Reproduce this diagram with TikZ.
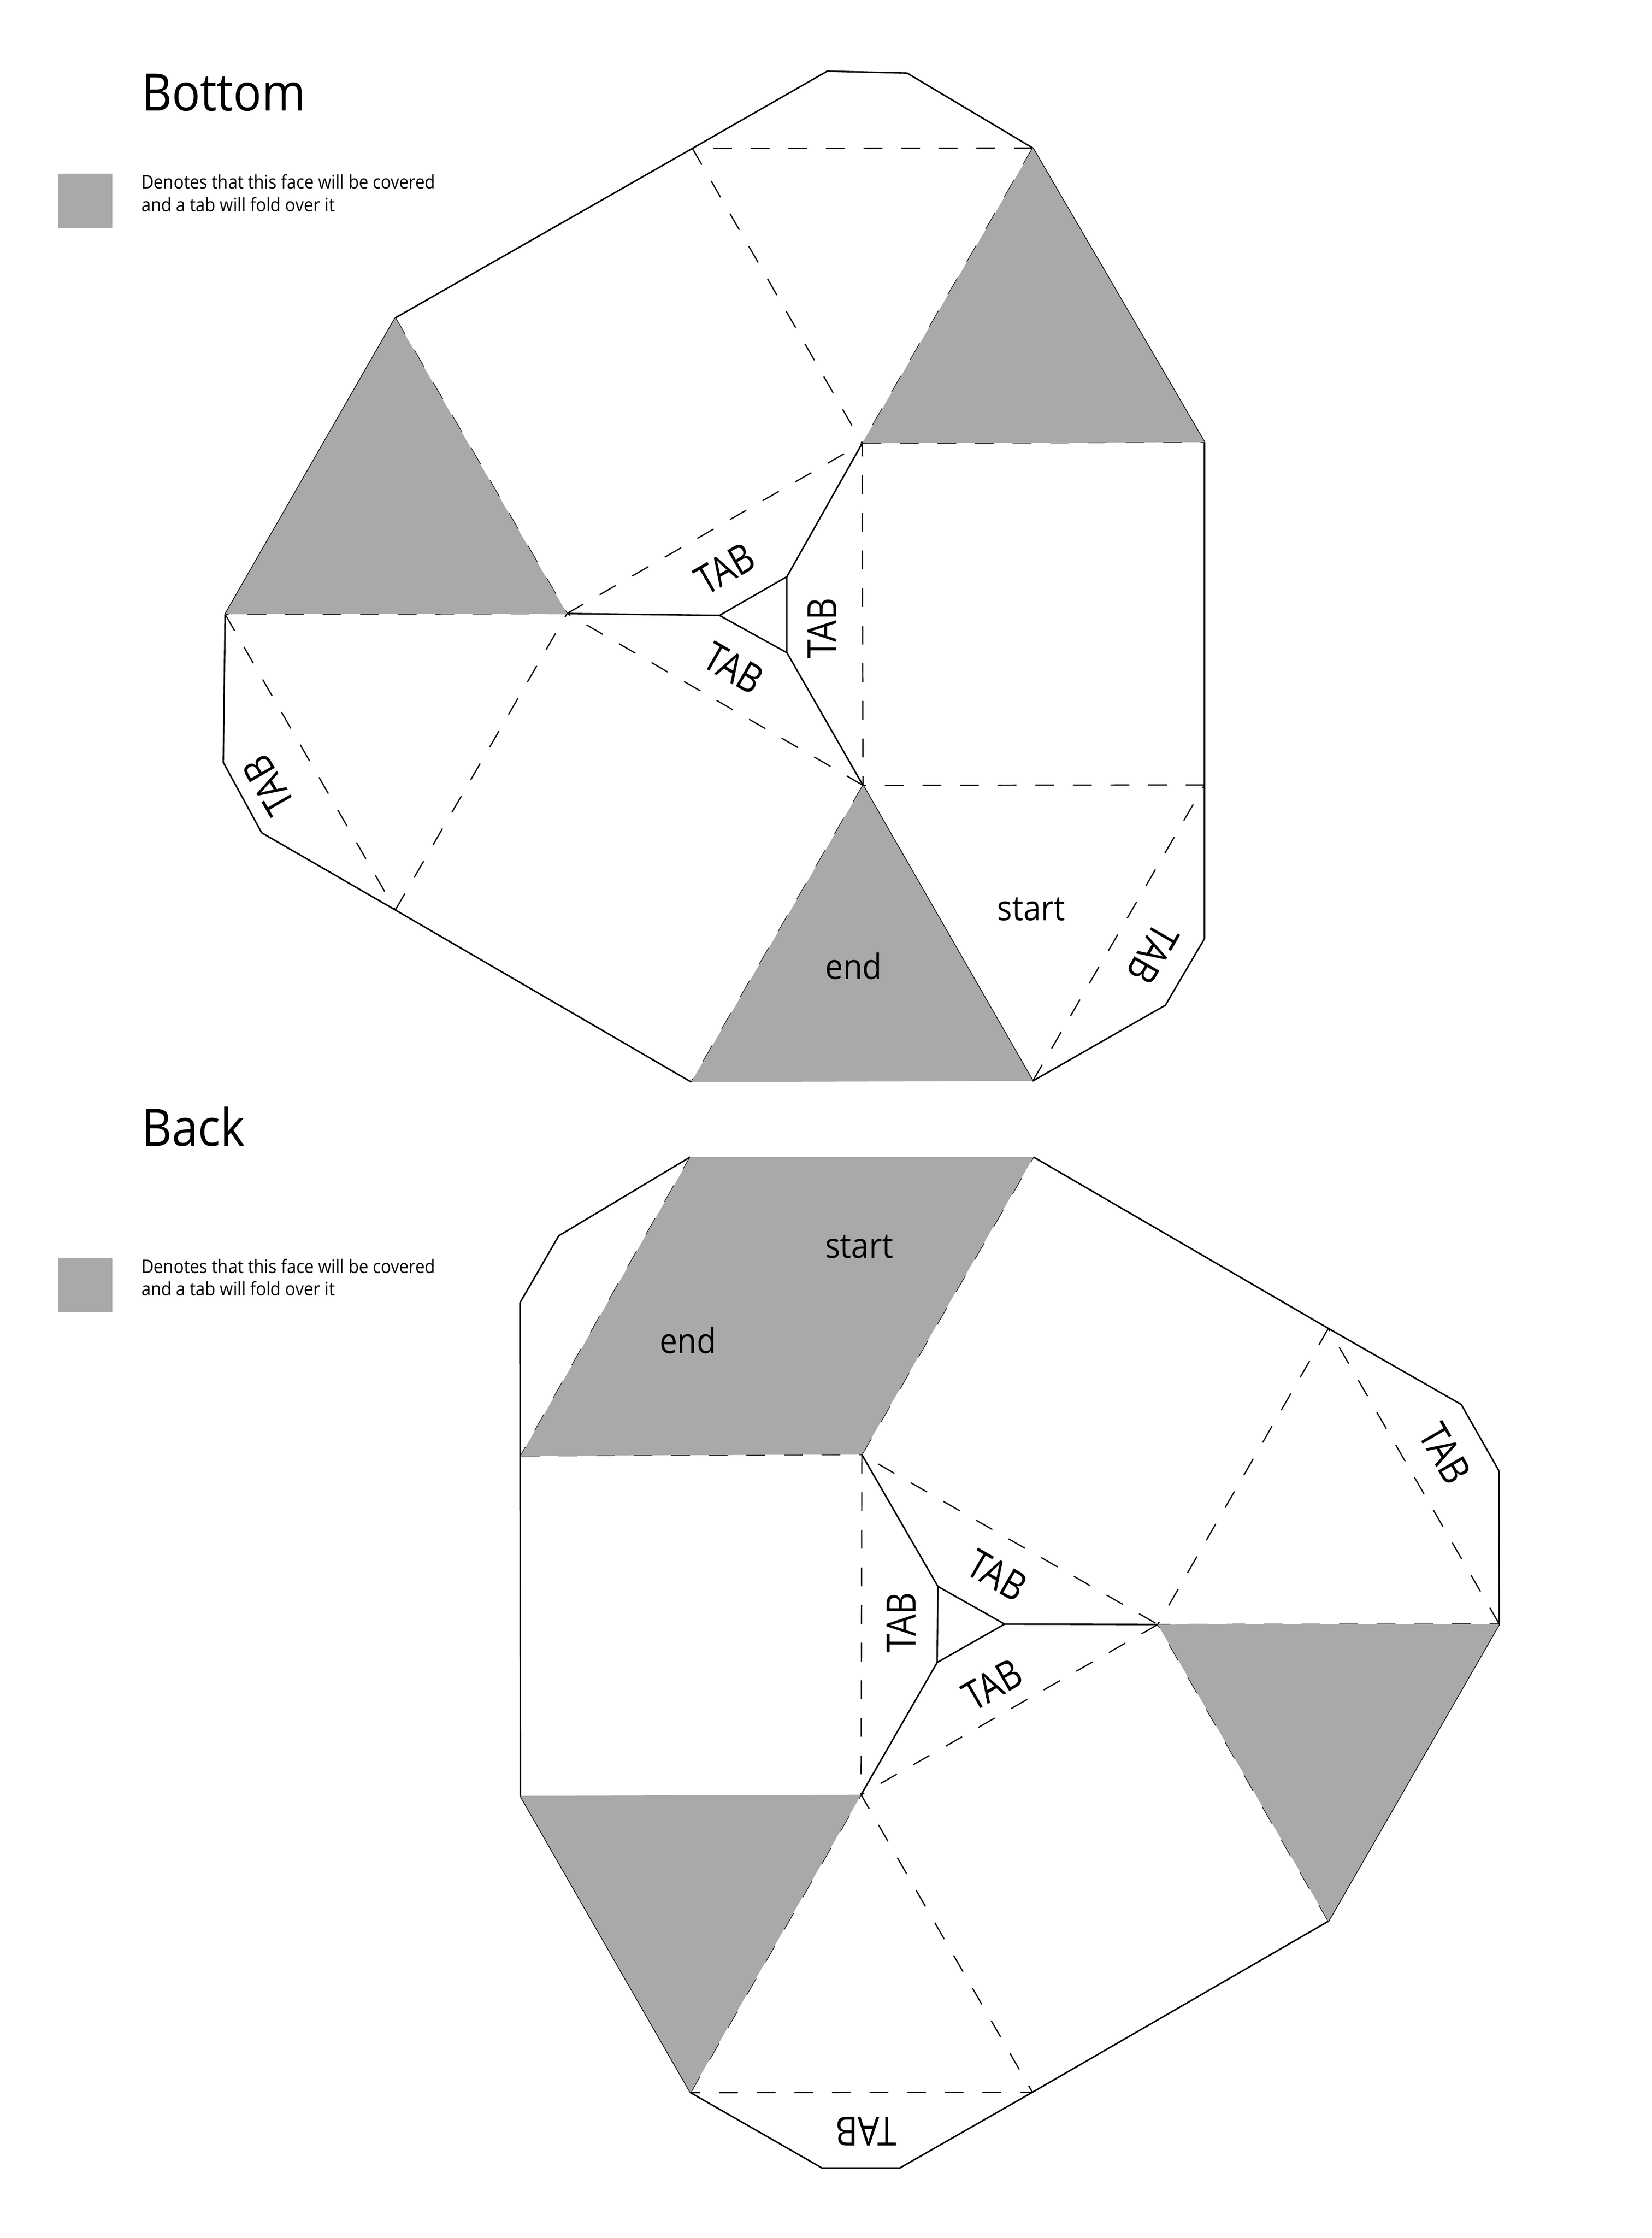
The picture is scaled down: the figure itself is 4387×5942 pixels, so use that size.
\documentclass[tikz,border=0pt]{standalone}
\usepackage{fontspec}
\setmainfont[FakeStretch=0.91]{Open Sans}
\newfontfamily\tabfont[FakeStretch=0.85]{Open Sans}
\definecolor{facegray}{HTML}{A9A9A9}
\tikzset{
  cutline/.style={line width=1.14pt,line join=round},
  fold/.style={line width=.92pt,dash pattern=on 14.2pt off 14.2pt,dash phase=#1},
  fold/.default=0pt,
  face/.style={fill=facegray,draw=none},
  headlabel/.style={anchor=base west,inner sep=0pt,font=\fontsize{39}{41}\selectfont},
  notelabel/.style={anchor=base west,inner sep=0pt,font=\fontsize{14.05}{17}\selectfont},
  wordlabel/.style={anchor=base,inner sep=0pt,font=\fontsize{26.3}{29}\selectfont},
  tablabel/.style={anchor=center,inner sep=0pt,font=\tabfont\fontsize{30.5}{32}\selectfont},
}
\begin{document}
\begin{tikzpicture}[x=0.01cm,y=-0.01cm]
\useasboundingbox (0,0) rectangle (4387,5942);
\fill[white] (0,0) rectangle (4387,5942);

% ---------- top net: vertices
\coordinate (a1) at (1050,844);
\coordinate (a2) at (1839,394);
\coordinate (a3) at (2197,189);
\coordinate (a4) at (2409,194);
\coordinate (a5) at (2743,393);
\coordinate (a6) at (3199,1174);
\coordinate (a7) at (3199,2084);
\coordinate (a8) at (3199,2492);
\coordinate (a9) at (3095,2669);
\coordinate (a10) at (2743,2870);
\coordinate (a11) at (1836,2873);
\coordinate (a12) at (1050,2416);
\coordinate (a13) at (695,2211);
\coordinate (a14) at (593,2024);
\coordinate (a15) at (598,1631);
\coordinate (ap1) at (2290,1177);
\coordinate (ap2) at (1506,1629);
\coordinate (ap3) at (2292,2085);
\coordinate (ac1) at (1911,1634);
\coordinate (ac2) at (2090,1531);
\coordinate (ac3) at (2090,1733);

% top net: cut lines
\draw[cutline] (a1) -- (a2) -- (a3) -- (a4) -- (a5) -- (a6) -- (a7) -- (a8) -- (a9) -- (a10) -- (ap3);
\draw[cutline] (a11) -- (a12) -- (a13) -- (a14) -- (a15) -- (a1);
\draw[cutline] (ap2) -- (ac1) -- (ac2) -- (ap1);
\draw[cutline] (ac1) -- (ac3) -- (ap3);
\draw[cutline] (ac2) -- (ac3);

% top net: fold lines
\draw[fold] (a5) -- (a2);
\draw[fold] (a2) -- (ap1);
\draw[fold] (a5) -- (ap1);
\draw[fold] (ap1) -- (a6);
\draw[fold=4.3pt] (ap1) -- (ap3);
\draw[fold] (ap2) -- (ap1);
\draw[fold] (ap3) -- (ap2);
\draw[fold] (a1) -- (ap2);
\draw[fold] (ap2) -- (a15);
\draw[fold] (a15) -- (a12);
\draw[fold] (a12) -- (ap2);
\draw[fold] (a7) -- (ap3);
\draw[fold] (a10) -- (a7);
\draw[fold] (ap3) -- (a11);

% top net: covered faces, laid over the lines as in the reference
\fill[face] (a5) -- (a6) -- (ap1) -- cycle;
\fill[face] (a1) -- (a15) -- (ap2) -- cycle;
\fill[face] (ap3) -- (a10) -- (a11) -- cycle;

% top net: labels
\node[headlabel] (t1) at (375,294) {Bottom};
\node[face,anchor=north west,minimum width=143*0.2845pt,minimum height=144*0.2845pt,inner sep=0pt] (k1) at (154,460) {};
\node[notelabel] (n1) at (375,501) {Denotes that this face will be covered};
\node[notelabel] (n2) at (375,561) {and a tab will fold over it};
\node[tablabel,rotate=30] (l1) at (1925,1510) {TAB};
\node[tablabel,rotate=-30] (l2) at (1948,1774) {TAB};
\node[tablabel,rotate=90] (l3) at (2183,1668) {TAB};
\node[tablabel,rotate=120] (l4) at (713,2085) {TAB};
\node[tablabel,rotate=240] (l5) at (3062,2533) {TAB};
\node[wordlabel] (l6) at (2739,2444) {start};
\node[wordlabel] (l7) at (2267,2600) {end};

% ---------- bottom net: vertices
\coordinate (b1) at (1833,3072);
\coordinate (b2) at (2745,3072);
\coordinate (b3) at (3528,3527);
\coordinate (b4) at (3881,3729);
\coordinate (b5) at (3981,3905);
\coordinate (b6) at (3982,4312);
\coordinate (b7) at (3528,5101);
\coordinate (b8) at (2742,5555);
\coordinate (b9) at (2390,5756);
\coordinate (b10) at (2183,5756);
\coordinate (b11) at (1834,5556);
\coordinate (b12) at (1382,4768);
\coordinate (b13) at (1383,3865);
\coordinate (b14) at (1381,3459);
\coordinate (b15) at (1484,3281);
\coordinate (bp1) at (2289,3862);
\coordinate (bp2) at (3075,4313);
\coordinate (bp3) at (2287,4765);
\coordinate (bc1) at (2668,4312);
\coordinate (bc2) at (2491,4212);
\coordinate (bc3) at (2489,4414);

% bottom net: cut lines
\draw[cutline] (b1) -- (b15) -- (b14) -- (b12) -- (b11) -- (b10) -- (b9) -- (b8) -- (b7) -- (b6) -- (b5) -- (b4) -- (b3) -- (b2);
\draw[cutline] (bp1) -- (bc2) -- (bc1) -- (bp2);
\draw[cutline] (bc1) -- (bc3) -- (bp3);
\draw[cutline] (bc2) -- (bc3);

% bottom net: fold lines
\draw[fold=6.8pt] (b13) -- (b1);
\draw[fold] (bp1) -- (b2);
\draw[fold] (b13) -- (bp1);
\draw[fold] (bp1) -- (bp3);
\draw[fold=14.2pt] (bp1) -- (bp2);
\draw[fold] (bp2) -- (bp3);
\draw[fold] (b3) -- (bp2);
\draw[fold] (b6) -- (b3);
\draw[fold=5.1pt] (bp2) -- (b6);
\draw[fold] (b7) -- (bp2);
\draw[fold] (b11) -- (bp3);
\draw[fold=2pt] (bp3) -- (b8);
\draw[fold=6.8pt] (b11) -- (b8);

% bottom net: covered faces, laid over the lines as in the reference
\fill[face] (b1) -- (b2) -- (bp1) -- (b13) -- cycle;
\fill[face] (bp2) -- (b6) -- (b7) -- cycle;
\fill[face] (b12) -- (bp3) -- (b11) -- cycle;

% bottom net: labels
\node[headlabel] (t2) at (375,3043) {Back};
\node[face,anchor=north west,minimum width=143*0.2845pt,minimum height=144*0.2845pt,inner sep=0pt] (k2) at (154,3339) {};
\node[notelabel] (n3) at (375,3380) {Denotes that this face will be covered};
\node[notelabel] (n4) at (375,3440) {and a tab will fold over it};
\node[tablabel,rotate=-30] (m1) at (2648,4182) {TAB};
\node[tablabel,rotate=30] (m2) at (2636,4473) {TAB};
\node[tablabel,rotate=90] (m3) at (2394,4308) {TAB};
\node[tablabel,rotate=-60] (m4) at (3838,3859) {TAB};
\node[tablabel,rotate=180] (m5) at (2300,5659) {TAB};
\node[wordlabel] (m6) at (2282,3340) {start};
\node[wordlabel] (m7) at (1827,3593) {end};
\end{tikzpicture}
\end{document}
